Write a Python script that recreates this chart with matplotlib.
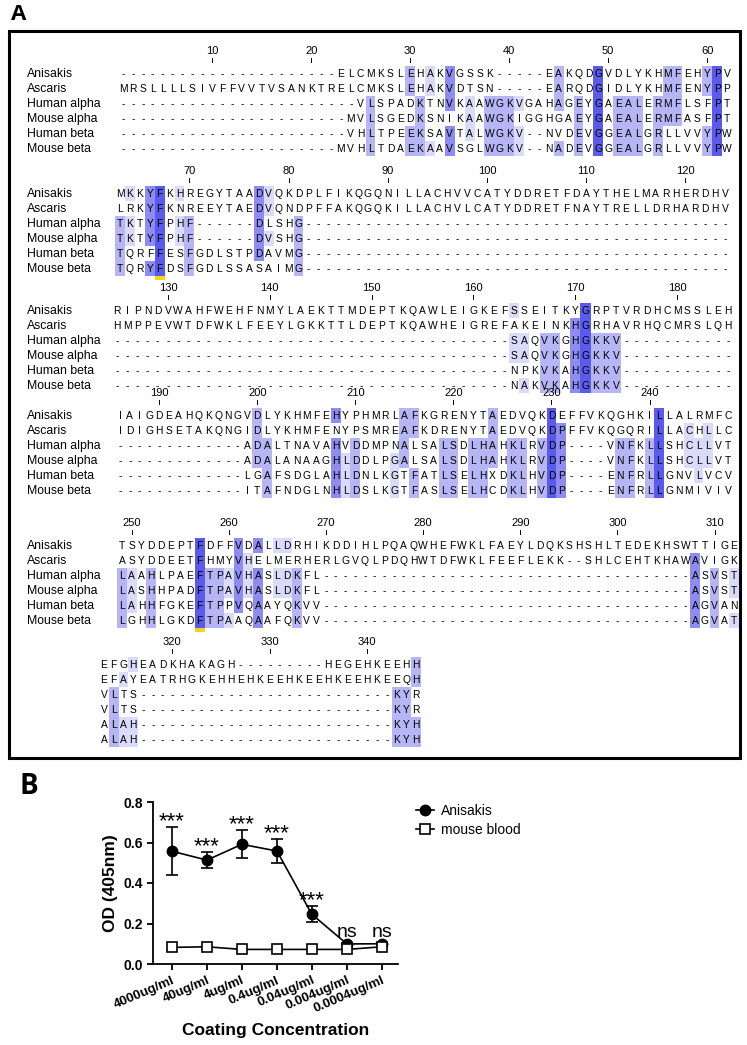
import matplotlib
matplotlib.use('Agg')
import matplotlib.pyplot as plt
from matplotlib.patches import Rectangle
from matplotlib.transforms import blended_transform_factory
from collections import Counter

W, H = 747, 1045

# ---------------- panel A : alignment ----------------
names = ['Anisakis', 'Ascaris', 'Human alpha', 'Mouse alpha', 'Human beta', 'Mouse beta']

# first residue number of every wrapped block
starts = [1, 63, 125, 186, 249, 313]

block1 = ['----------------------ELCMKSLEHAKVGSSK-----EAKQDGVDLYKHMFEHYPV',
          'MRSLLLLSIVFFVVTVSANKTRELCMKSLEHAKVDTSN-----EARQDGIDLYKHMFENYPP',
          '------------------------VLSPADKTNVKAAWGKVGAHAGEYGAEALERMFLSFPT',
          '-----------------------MVLSGEDKSNIKAAWGKIGGHGAEYGAEALERMFASFPT',
          '-----------------------VHLTPEEKSAVTALWGKV--NVDEVGGEALGRLLVVYPW',
          '----------------------MVHLTDAEKAAVSGLWGKV--NADEVGGEALGRLLVVYPW']
block2 = ['MKKYFKHREGYTAADVQKDPLFIKQGQNILLACHVVCATYDDRETFDAYTHELMARHERDHV',
          'LRKYFKNREEYTAEDVQNDPFFAKQGQKILLACHVLCATYDDRETFNAYTRELLDRHARDHV',
          'TKTYFPHF------DLSHG' + '-' * 43,
          'TKTYFPHF------DVSHG' + '-' * 43,
          'TQRFFESFGDLSTPDAVMG' + '-' * 43,
          'TQRYFDSFGDLSSASAIMG' + '-' * 43]
block3 = ['RIPNDVWAHFWEHFNMYLAEKTTMDEPTKQAWLEIGKEFSSEITKYGRPTVRDHCMSSLEH',
          'HMPPEVWTDFWKLFEEYLGKKTTLDEPTKQAWHEIGREFAKEINKHGRHAVRHQCMRSLQH',
          '-' * 39 + 'SAQVKGHGKKV' + '-' * 11,
          '-' * 39 + 'SAQVKGHGKKV' + '-' * 11,
          '-' * 39 + 'NPKVKAHGKKV' + '-' * 11,
          '-' * 39 + 'NAKVKAHGKKV' + '-' * 11]
block4 = ['IAIGDEAHQKQNGVDLYKHMFEHYPHMRLAFKGRENYTAEDVQKDEFFVKQGHKILLALRMFC',
          'IDIGHSETAKQNGIDLYKHMFENYPSMREAFKDRENYTAEDVQKDPFFVKQGQRILLACHLLC',
          '-' * 13 + 'ADALTNAVAHVDDMPNALSALSDLHAHKLRVDP----VNFKLLSHCLLVT',
          '-' * 13 + 'ADALANAAGHLDDLPGALSALSDLHAHKLRVDP----VNFKLLSHCLLVT',
          '-' * 13 + 'LGAFSDGLAHLDNLKGTFATLSELHXDKLHVDP----ENFRLLGNVLVCV',
          '-' * 13 + 'ITAFNDGLNHLDSLKGTFASLSELHCDKLHVDP----ENFRLLGNMIVIV']
block5 = ['TSYDDEPTFDFFVDALLDRHIKDDIHLPQAQWHEFWKLFAEYLDQKSHSHLTEDEKHSWTTIGE',
          'ASYDDEETFHMYVHELMERHERLGVQLPDQHWTDFWKLFEEFLEKK--SHLCEHTKHAWAVIGK',
          'LAAHLPAEFTPAVHASLDKFL' + '-' * 38 + 'ASVST',
          'LASHHPADFTPAVHASLDKFL' + '-' * 38 + 'ASVST',
          'LAHHFGKEFTPPVQAAYQKVV' + '-' * 38 + 'AGVAN',
          'LGHHLGKDFTPAAQAAFQKVV' + '-' * 38 + 'AGVAT']
block6 = ['EFGHEADKHAKAGH' + '-' * 9 + 'HEGEHKEEHH',
          'EFAYEATRHGKEHHEHKEEHKEEHKEEHKEEQH',
          'VLTS' + '-' * 26 + 'KYR',
          'VLTS' + '-' * 26 + 'KYR',
          'ALAH' + '-' * 26 + 'KYH',
          'ALAH' + '-' * 26 + 'KYH']
blocks = [block1, block2, block3, block4, block5, block6]

# columns marked with a small yellow bar
marked_cols = [67, 257]

# ---------------- panel B : ELISA ----------------
conc = ['4000ug/ml', '40ug/ml', '4ug/ml', '0.4ug/ml', '0.04ug/ml', '0.004ug/ml', '0.0004ug/ml']
anisakis = [0.557, 0.513, 0.591, 0.558, 0.245, 0.099, 0.100]
anisakis_err = [0.118, 0.039, 0.069, 0.058, 0.040, 0.005, 0.005]
mouse_blood = [0.082, 0.085, 0.072, 0.072, 0.072, 0.072, 0.085]
signif = ['***', '***', '***', '***', '***', 'ns', 'ns']

# percent identity shading, computed per column over the 6 sequences
full = [''.join(b[i] for b in blocks) for i in range(6)]
shades = {6: '#5a5aee', 5: '#8c8cf3', 4: '#b6b6f7', 3: '#dadafb'}
col_info = []
for j in range(len(full[0])):
    cnt = Counter(r[j] for r in full if r[j] != '-')
    ranked = cnt.most_common(2)
    keep, color = set(), None
    if ranked and ranked[0][1] >= 3:
        if len(ranked) == 1 or ranked[1][1] < ranked[0][1]:
            keep, color = {ranked[0][0]}, shades[ranked[0][1]]
    col_info.append((keep, color))


def px_box(left, top, right, bottom):
    return [left / W, 1 - bottom / H, (right - left) / W, (bottom - top) / H]


fig = plt.figure(figsize=(W / 100, H / 100), dpi=100)
plt.rcParams['font.family'] = ['Liberation Sans', 'DejaVu Sans']

# block layout in pixels (centre of first / last column, first row)
x_first = [123, 120, 117, 120, 122, 104]
x_last = [727, 725, 728, 728, 734, 416]
row0 = [73, 193, 310, 415, 545, 664]
row_h = 15

for bi, rows in enumerate(blocks):
    n = len(rows[0])
    s = starts[bi]
    dx = (x_last[bi] - x_first[bi]) / (n - 1)
    ax = fig.add_axes(px_box(x_first[bi] - dx / 2, row0[bi] - row_h / 2,
                             x_last[bi] + dx / 2, row0[bi] + 5.5 * row_h))
    ax.set_xlim(s - 0.5, s + n - 0.5)
    ax.set_ylim(5.5, -0.5)
    ax.axis('off')
    for i, seq in enumerate(rows):
        for k, ch in enumerate(seq):
            col = s + k
            keep, color = col_info[col - 1]
            if ch in keep:
                ax.add_patch(Rectangle((col - 0.5, i - 0.5), 1, 1, fc=color, ec='none'))
            ax.text(col, i + 0.27, ch, ha='center', va='baseline', fontsize=7.4)
        if bi < 5:
            tr = blended_transform_factory(fig.transFigure, ax.transData)
            ax.text(27 / W, i + 0.27, names[i], transform=tr, ha='left',
                    va='baseline', fontsize=8.8)
    for t in range((s + 9) // 10 * 10, s + n, 10):
        ax.text(t, -1.45, str(t), ha='center', va='center', fontsize=8, clip_on=False)
        ax.plot([t, t], [-1.02, -0.72], color='k', lw=0.7, clip_on=False)
    for c in marked_cols:
        if s <= c < s + n:
            ax.add_patch(Rectangle((c - 0.5, 5.55), 1, 0.22, fc='#f7d417', ec='none',
                                   clip_on=False))

fig.add_artist(Rectangle((9 / W, 1 - 758 / H), 731 / W, 727 / H, transform=fig.transFigure,
                         fill=False, ec='k', lw=2.2))
fig.text(11 / W, 1 - 15 / H, 'A', fontsize=16, fontweight='bold', va='center',
         family=['Open Sans', 'DejaVu Sans'])
fig.text(20 / W, 1 - 786 / H, 'B', fontsize=20, fontweight='bold', va='center',
         family=['Open Sans', 'DejaVu Sans'])

# ---------------- panel B ----------------
bx = fig.add_axes(px_box(153, 802, 398, 964))
x = list(range(len(conc)))
bx.errorbar(x, anisakis, yerr=anisakis_err, fmt='none', ecolor='k', elinewidth=1.2,
            capsize=4, capthick=1.2, zorder=2)
bx.plot(x, anisakis, '-o', color='k', ms=7.5, lw=1.2, label='Anisakis', zorder=3)
bx.plot(x, mouse_blood, '-s', color='k', mfc='white', mew=1.2, ms=7.5, lw=1.2,
        label='mouse blood', zorder=4)
for i, txt in enumerate(signif):
    top = anisakis[i] + anisakis_err[i]
    if txt == 'ns':
        bx.text(i, top + 0.03, txt, ha='center', va='baseline', fontsize=14)
    else:
        bx.text(i, top, txt, ha='center', va='baseline', fontsize=16)

bx.set_xlim(-0.54, 6.46)
bx.set_ylim(0, 0.8)
bx.set_yticks([0, 0.2, 0.4, 0.6, 0.8])
bx.set_yticklabels(['0.0', '0.2', '0.4', '0.6', '0.8'], fontweight='bold', fontsize=10)
bx.set_xticks(x)
bx.set_xticklabels(conc, rotation=23, ha='right', rotation_mode='anchor',
                   fontweight='bold', fontsize=9.5)
bx.spines['top'].set_visible(False)
bx.spines['right'].set_visible(False)
bx.spines['left'].set_linewidth(1.3)
bx.spines['bottom'].set_linewidth(1.3)
bx.tick_params(direction='out', length=4, width=1.3)
bx.set_ylabel('OD (405nm)', fontweight='bold', fontsize=12.5, labelpad=4)
bx.set_xlabel('Coating Concentration', fontweight='bold', fontsize=12.5, labelpad=6)
bx.legend(loc='upper left', bbox_to_anchor=(416 / W, 1 - 804 / H),
          bbox_transform=fig.transFigure, frameon=False, fontsize=10,
          handlelength=1.3, handletextpad=0.5, borderpad=0, borderaxespad=0,
          labelspacing=0.35)

fig.savefig('out.png', dpi=100, facecolor='white')
